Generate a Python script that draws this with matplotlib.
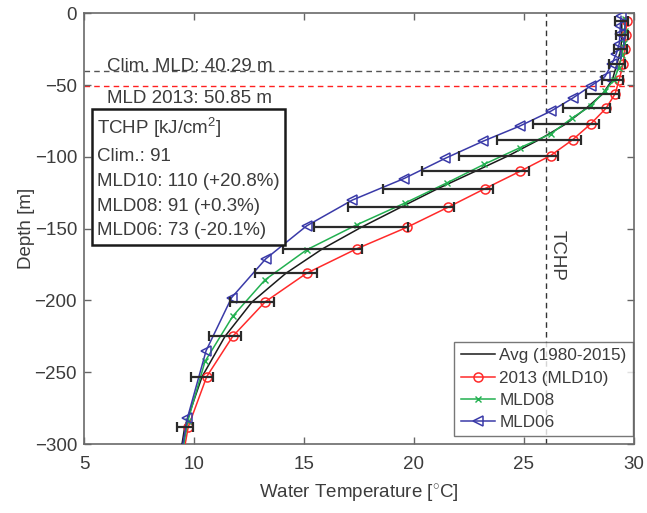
import numpy as np
import matplotlib.pyplot as plt

plt.rcParams['font.family'] = ['Liberation Sans', 'DejaVu Sans']
plt.rcParams['mathtext.fontset'] = 'custom'
plt.rcParams['mathtext.rm'] = 'Liberation Sans'
plt.rcParams['mathtext.it'] = 'Liberation Sans:italic'

# climatological mean profile (1980-2015) with its standard deviation
avg_depth = [5, 15, 25, 35, 46, 56, 66, 77, 88, 99, 110, 122, 135, 149, 164, 181, 201, 225, 253, 288, 320]
avg_temp = [29.44, 29.45, 29.40, 29.23, 29.02, 28.58, 27.83, 26.90, 25.68, 24.31, 22.78, 21.09,
            19.40, 17.60, 15.84, 14.18, 12.64, 11.41, 10.37, 9.58, 9.25]
avg_std = [0.30, 0.28, 0.30, 0.35, 0.49, 0.75, 1.07, 1.50, 1.90, 2.25, 2.43, 2.50,
           2.40, 2.15, 1.78, 1.40, 1.00, 0.71, 0.51, 0.37]

# 2013 profile (MLD10)
mld10_depth = [5, 15, 25, 35, 46, 56, 66, 77, 88, 99, 110, 122, 135, 149, 164, 181, 201, 225, 253, 288, 330]
mld10_temp = [29.67, 29.62, 29.59, 29.51, 29.33, 29.14, 28.73, 28.03, 27.21, 26.21, 24.82, 23.23,
              21.55, 19.68, 17.39, 15.12, 13.23, 11.76, 10.58, 9.74, 9.25]

# rescaled profiles
mld08_depth = [3.5, 12, 20.5, 29, 38, 46, 54, 64.4, 73, 84, 93.5, 105, 118, 132, 147.3, 164.7,
               185.6, 211, 242.5, 284, 330]
mld08_temp = [29.60, 29.58, 29.55, 29.45, 29.30, 29.10, 28.68, 28.03, 27.17, 26.21, 24.82, 23.20,
              21.50, 19.60, 17.39, 15.12, 13.23, 11.76, 10.50, 9.72, 9.20]
mld06_depth = [2, 8.5, 14.5, 21, 28, 35, 44, 50.5, 59, 68, 78.5, 89, 101, 115, 130, 148, 171,
               198, 235, 282, 330]
mld06_temp = [29.41, 29.38, 29.36, 29.33, 29.20, 29.00, 28.68, 28.03, 27.21, 26.23, 24.80, 23.14,
              21.41, 19.55, 17.20, 15.12, 13.26, 11.71, 10.55, 9.70, 9.15]

clim_mld = 40.29
mld_2013 = 50.85
tchp_isotherm = 26
tchp_lines = ['TCHP [kJ/cm$^{2}$]', 'Clim.: 91', 'MLD10: 110 (+20.8%)',
              'MLD08: 91 (+0.3%)', 'MLD06: 73 (-20.1%)']

txt = '#3c3c3c'
fs = 13.5

fig = plt.figure(figsize=(6.47, 5.13), dpi=100)
ax = fig.add_axes([0.1298, 0.1345, 0.8501, 0.8392])

ax.axhline(-clim_mld, color='#555555', ls=(0, (4, 3)), lw=1.0, zorder=1)
ax.axhline(-mld_2013, color='#ff2020', ls=(0, (4, 3)), lw=1.0, zorder=1)
ax.axvline(tchp_isotherm, color='#333333', ls=(0, (4, 3)), lw=1.0, zorder=1)

ax.plot(avg_temp, -np.array(avg_depth), color='#1a1a1a', lw=1.1, label='Avg (1980-2015)', zorder=3)
ax.plot(mld10_temp, -np.array(mld10_depth), color='#ff2a2a', lw=1.1, marker='o', ms=6.5,
        mfc='none', mew=1.1, label='2013 (MLD10)', zorder=3)
ax.plot(mld08_temp, -np.array(mld08_depth), color='#22b050', lw=1.1, marker='x', ms=4,
        mew=1.0, label='MLD08', zorder=3)
ax.plot(mld06_temp, -np.array(mld06_depth), color='#3a3aa8', lw=1.1, marker='<', ms=6.5,
        mfc='none', mew=1.1, label='MLD06', zorder=3)

n = len(avg_std)
ax.errorbar(avg_temp[:n], -np.array(avg_depth[:n]), xerr=avg_std, fmt='none', ecolor='#2a2a2a',
            elinewidth=1.6, capsize=3.5, capthick=1.6, zorder=4)

ax.text(6.05, -39.8, 'Clim. MLD: 40.29 m', fontsize=fs, color=txt, va='baseline')
ax.text(6.05, -62.3, 'MLD 2013: 50.85 m', fontsize=fs, color=txt, va='baseline')
ax.text(26.5, -151, 'TCHP', fontsize=fs, color=txt, rotation=270, ha='center', va='top')

ax.text(5.6, -71.5, '\n'.join(tchp_lines), fontsize=fs, color=txt, va='top', ha='left',
        linespacing=1.6,
        bbox=dict(boxstyle='square,pad=0.28', fc='white', ec='#1a1a1a', lw=1.8), zorder=5)

ax.set_xlim(5, 30)
ax.set_ylim(-300, 0)
ax.set_xticks([5, 10, 15, 20, 25, 30])
ax.set_yticks([0, -50, -100, -150, -200, -250, -300])
ax.tick_params(direction='in', length=5, width=1.0, colors='#666666', labelcolor=txt,
               labelsize=fs, top=True, right=True)
ax.tick_params(axis='x', pad=8.5)
ax.tick_params(axis='y', pad=5)
for s in ax.spines.values():
    s.set_color('#6a6a6a')
    s.set_linewidth(1.2)

ax.set_xlabel('Water Temperature [$^{\\circ}$C]', fontsize=fs, color=txt, labelpad=7)
ax.set_ylabel('Depth [m]', fontsize=fs, color=txt, labelpad=0)

leg = ax.legend(loc='upper right', bbox_to_anchor=(0.998, 0.237), borderaxespad=0,
                fontsize=12.3, frameon=True, fancybox=False, handlelength=2.0,
                handletextpad=0.25, labelspacing=0.42, borderpad=0.38)
leg.get_frame().set_edgecolor('#555555')
leg.get_frame().set_linewidth(1.0)
for t in leg.get_texts():
    t.set_color(txt)

fig.savefig('out.png', dpi=100)
